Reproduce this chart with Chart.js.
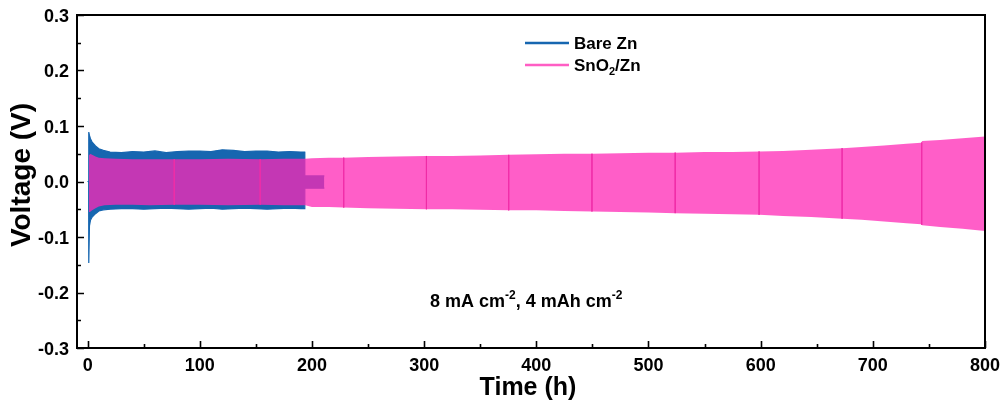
<!DOCTYPE html>
<html>
<head>
<meta charset="utf-8">
<script src="https://cdn.jsdelivr.net/npm/chart.js@4.4.1/dist/chart.umd.min.js"></script>
<style>
  html, body { margin: 0; padding: 0; background: #ffffff; }
  #wrap { width: 1001px; height: 418px; }
</style>
</head>
<body>
<div id="wrap"><canvas id="c" width="1001" height="418"></canvas></div>
<script>
// ---- Bare Zn symmetric cell: upper / lower voltage envelope (V) vs time (h)
const bareTime = [0, 0.9, 1.0, 1.6, 2.5, 4, 7, 10, 14, 20, 30, 40, 50, 60, 70, 80, 90, 100, 110, 120, 130, 140, 150, 160, 170, 180, 190, 193.5, 193.6, 211];
const bareHi   = [0, 0, 0.089, 0.083, 0.077, 0.071, 0.064, 0.059, 0.056, 0.053, 0.052, 0.054, 0.053, 0.055, 0.052, 0.054, 0.055, 0.055, 0.054, 0.057, 0.056, 0.054, 0.055, 0.055, 0.053, 0.054, 0.053, 0.053, 0.010, 0.010];
const bareLo   = [0, 0, -0.147, -0.080, -0.070, -0.064, -0.058, -0.053, -0.051, -0.050, -0.049, -0.049, -0.050, -0.049, -0.048, -0.049, -0.050, -0.049, -0.048, -0.050, -0.049, -0.048, -0.049, -0.050, -0.049, -0.048, -0.049, -0.049, -0.012, -0.012];

// ---- SnO2/Zn symmetric cell: upper / lower voltage envelope (V) vs time (h)
const snTime = [1.2, 2, 4, 7, 10, 15, 25, 40, 55, 77, 100, 125, 154, 175, 194, 200, 215, 228, 250, 275, 302, 325, 350, 375, 400, 425, 450, 475, 500, 524, 550, 575, 599, 620, 645, 673, 690, 710, 730, 743, 744, 760, 780, 800];
const snHi   = [0.048, 0.050, 0.048, 0.045, 0.043, 0.042, 0.041, 0.040, 0.040, 0.040, 0.040, 0.041, 0.040, 0.041, 0.041, 0.042, 0.043, 0.043, 0.044, 0.045, 0.046, 0.046, 0.047, 0.048, 0.049, 0.050, 0.050, 0.051, 0.052, 0.052, 0.053, 0.053, 0.054, 0.055, 0.057, 0.060, 0.062, 0.065, 0.068, 0.070, 0.073, 0.075, 0.078, 0.081];
const snLo   = [-0.054, -0.055, -0.052, -0.048, -0.045, -0.043, -0.042, -0.042, -0.043, -0.042, -0.042, -0.043, -0.042, -0.043, -0.043, -0.046, -0.046, -0.047, -0.048, -0.049, -0.050, -0.050, -0.051, -0.052, -0.052, -0.053, -0.054, -0.055, -0.056, -0.057, -0.058, -0.059, -0.060, -0.062, -0.064, -0.067, -0.069, -0.072, -0.075, -0.077, -0.079, -0.082, -0.085, -0.089];

// ---- SnO2/Zn data-file joins (h) and the voltage span at each join (V)
const markTime = [77.2, 153.8, 228.3, 302, 375.4, 449.6, 523.8, 598.6, 672.6, 743.6];
const markHi   = [0.040, 0.040, 0.043, 0.046, 0.048, 0.050, 0.052, 0.054, 0.060, 0.070];
const markLo   = [-0.042, -0.042, -0.047, -0.050, -0.052, -0.054, -0.057, -0.060, -0.067, -0.078];

// ---- axes
const xTicks = [0, 100, 200, 300, 400, 500, 600, 700, 800];
const xTickLabels = ['0', '100', '200', '300', '400', '500', '600', '700', '800'];
const xMinor = [50, 150, 250, 350, 450, 550, 650, 750];
const yTicks = [-0.3, -0.2, -0.1, 0.0, 0.1, 0.2, 0.3];
const yTickLabels = ['-0.3', '-0.2', '-0.1', '0.0', '0.1', '0.2', '0.3'];
const yMinor = [-0.25, -0.15, -0.05, 0.05, 0.15, 0.25];

const seriesNames = ['Bare Zn', 'SnO2/Zn'];
const noteText = ['8 mA cm', '-2', ', 4 mAh cm', '-2'];

const FONT = "'Liberation Sans', Arial, Helvetica, sans-serif";
const BLUE = '#1666b0';
const PINK_FILL = 'rgba(255,40,181,0.75)';
const PINK_LINE = '#ff5ec4';
const MARK = 'rgba(240,45,168,0.85)';

function pts(xs, ys) { return xs.map((x, i) => ({ x: x, y: ys[i] })); }
function markPts() {
  const out = [];
  markTime.forEach((t, i) => {
    out.push({ x: t, y: markHi[i] }, { x: t, y: markLo[i] }, { x: t, y: null });
  });
  return out;
}

// frame, inward ticks, tick labels, axis titles, legend and condition note
const decor = {
  id: 'decor',
  afterDraw(chart) {
    const ctx = chart.ctx;
    const a = chart.chartArea;
    const xs = chart.scales.x, ys = chart.scales.y;
    ctx.save();
    ctx.strokeStyle = '#000';
    ctx.lineWidth = 2;
    ctx.strokeRect(a.left, a.top, a.right - a.left, a.bottom - a.top);

    ctx.lineWidth = 1.6;
    ctx.beginPath();
    xTicks.forEach(v => { const p = Math.round(xs.getPixelForValue(v)) + 0.5; ctx.moveTo(p, a.bottom); ctx.lineTo(p, a.bottom - 7); });
    xMinor.forEach(v => { const p = Math.round(xs.getPixelForValue(v)) + 0.5; ctx.moveTo(p, a.bottom); ctx.lineTo(p, a.bottom - 4); });
    yTicks.forEach(v => { const p = Math.round(ys.getPixelForValue(v)) + 0.5; ctx.moveTo(a.left, p); ctx.lineTo(a.left + 7, p); });
    yMinor.forEach(v => { const p = Math.round(ys.getPixelForValue(v)) + 0.5; ctx.moveTo(a.left, p); ctx.lineTo(a.left + 4, p); });
    ctx.stroke();

    ctx.fillStyle = '#000';
    ctx.font = 'bold 18px ' + FONT;
    ctx.textBaseline = 'alphabetic';
    ctx.textAlign = 'center';
    xTicks.forEach((v, i) => ctx.fillText(xTickLabels[i], xs.getPixelForValue(v), a.bottom + 23));
    ctx.textAlign = 'right';
    yTicks.forEach((v, i) => ctx.fillText(yTickLabels[i], a.left - 8, ys.getPixelForValue(v) + 6.5));

    ctx.textAlign = 'center';
    ctx.textBaseline = 'middle';
    ctx.font = 'bold 25px ' + FONT;
    ctx.fillText('Time (h)', 528, 388);
    ctx.save();
    ctx.translate(22, 175);
    ctx.rotate(-Math.PI / 2);
    ctx.font = 'bold 28px ' + FONT;
    ctx.fillText('Voltage (V)', 0, 0);
    ctx.restore();

    // legend
    ctx.lineWidth = 2.5;
    ctx.strokeStyle = BLUE;
    ctx.beginPath(); ctx.moveTo(525, 43); ctx.lineTo(569, 43); ctx.stroke();
    ctx.strokeStyle = PINK_LINE;
    ctx.beginPath(); ctx.moveTo(525, 65); ctx.lineTo(569, 65); ctx.stroke();
    ctx.textAlign = 'left';
    ctx.textBaseline = 'alphabetic';
    ctx.font = 'bold 17px ' + FONT;
    ctx.fillText(seriesNames[0], 574, 49);
    let x = 574;
    ctx.fillText('SnO', x, 71); x += ctx.measureText('SnO').width;
    ctx.font = 'bold 11px ' + FONT;
    ctx.fillText('2', x, 75); x += ctx.measureText('2').width;
    ctx.font = 'bold 17px ' + FONT;
    ctx.fillText('/Zn', x, 71);

    // test condition
    x = 430;
    const base = 307;
    noteText.forEach((s, i) => {
      const sup = i % 2 === 1;
      ctx.font = (sup ? 'bold 12px ' : 'bold 18px ') + FONT;
      ctx.fillText(s, x, sup ? base - 8 : base);
      x += ctx.measureText(s).width;
    });
    ctx.restore();
  }
};

new Chart(document.getElementById('c'), {
  type: 'line',
  data: {
    datasets: [
      { label: 'joins', data: markPts(), borderColor: MARK, borderWidth: 1, pointRadius: 0, fill: false, spanGaps: false, order: 0 },
      { label: seriesNames[1], data: pts(snTime, snHi), borderColor: PINK_FILL, backgroundColor: PINK_FILL, borderWidth: 0, pointRadius: 0, fill: '+1', order: 1 },
      { label: seriesNames[1] + ' lower', data: pts(snTime, snLo), borderColor: PINK_FILL, borderWidth: 0, pointRadius: 0, fill: false, order: 1 },
      { label: seriesNames[0], data: pts(bareTime, bareHi), borderColor: BLUE, backgroundColor: BLUE, borderWidth: 1.2, pointRadius: 0, fill: '+1', order: 2 },
      { label: seriesNames[0] + ' lower', data: pts(bareTime, bareLo), borderColor: BLUE, borderWidth: 1.2, pointRadius: 0, fill: false, order: 2 }
    ]
  },
  options: {
    responsive: false,
    animation: false,
    devicePixelRatio: 1,
    layout: { padding: { left: 0, top: 15, right: 16, bottom: 0 } },
    elements: { line: { tension: 0 } },
    plugins: { legend: { display: false }, tooltip: { enabled: false } },
    scales: {
      x: {
        type: 'linear', min: -9.5, max: 800,
        grid: { display: false, drawTicks: false },
        border: { display: false },
        ticks: { display: false },
        afterBuildTicks: s => { s.ticks = xTicks.map(v => ({ value: v })); },
        afterFit: s => { s.height = 70; }
      },
      y: {
        type: 'linear', min: -0.3, max: 0.3,
        grid: { display: false, drawTicks: false },
        border: { display: false },
        ticks: { display: false },
        afterBuildTicks: s => { s.ticks = yTicks.map(v => ({ value: v })); },
        afterFit: s => { s.width = 77; }
      }
    }
  },
  plugins: [decor]
});
</script>
</body>
</html>
